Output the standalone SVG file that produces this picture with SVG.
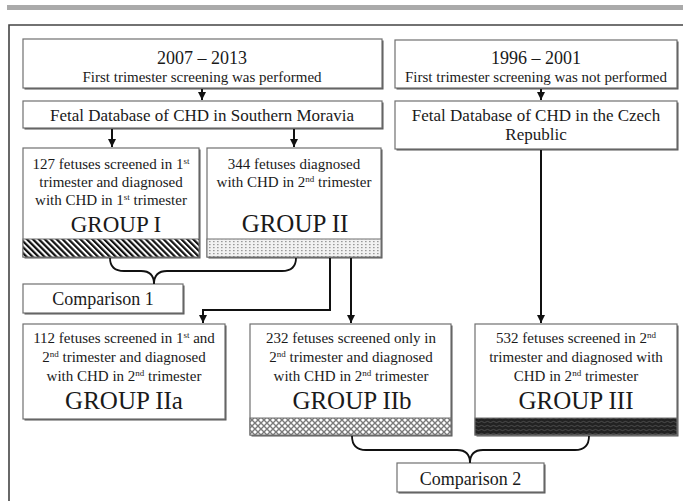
<svg xmlns="http://www.w3.org/2000/svg" width="683" height="501" viewBox="0 0 683 501" font-family="'Liberation Serif', 'Times New Roman', Times, 'DejaVu Serif', serif">
<defs>
<style>
text{font-family:'Liberation Serif','Times New Roman',Times,'DejaVu Serif',serif;fill:#1a1a1a;text-anchor:middle}
.box{fill:#fff;stroke:#707070;stroke-width:1.2}
.sh{fill:#555}
.t18{font-size:18px}
.t15{font-size:15px}
.t17{font-size:17px}
.grp{font-size:25px}
.conn{fill:none;stroke:#111;stroke-width:2}
.brace{fill:none;stroke:#111;stroke-width:1.8}
.band{stroke:#707070;stroke-width:1}
</style>
<marker id="ah" markerUnits="userSpaceOnUse" markerWidth="9" markerHeight="8" refX="8" refY="4" orient="auto">
<path d="M0,0 L8,4 L0,8 z" fill="#111"/>
</marker>
<pattern id="stripes" patternUnits="userSpaceOnUse" width="4.2" height="4.2" patternTransform="rotate(-45)">
<rect width="4.2" height="4.2" fill="#fff"/>
<rect width="2.2" height="4.2" fill="#111"/>
</pattern>
<pattern id="dots" patternUnits="userSpaceOnUse" width="4" height="3">
<rect width="4" height="3" fill="#f2f2f2"/>
<rect x="1" y="1" width="1.6" height="1.2" fill="#9a9a9a"/>
</pattern>
<pattern id="cross" patternUnits="userSpaceOnUse" width="6" height="6">
<rect width="6" height="6" fill="#fff"/>
<path d="M0,0 L6,6 M6,0 L0,6" stroke="#7a7a7a" stroke-width="1.4"/>
</pattern>
<pattern id="dark" patternUnits="userSpaceOnUse" width="6" height="4">
<rect width="6" height="4" fill="#222"/>
<path d="M0,2 Q1.5,0.8 3,2 T6,2" fill="none" stroke="#555" stroke-width="0.8"/>
</pattern>
</defs>

<rect x="7" y="5" width="676" height="5" fill="#aaaaaa"/>
<path d="M9,501 L9,25 L683,25" fill="none" stroke="#444" stroke-width="1.6"/>

<g id="period1">
<rect class="sh" x="24.5" y="40.5" width="359" height="49"/>
<rect class="box" x="23" y="39" width="359" height="49"/>
<text class="t18" x="202" y="64">2007 – 2013</text>
<text class="t15" x="202" y="82">First trimester screening was performed</text>
</g>

<g id="db1">
<rect class="sh" x="24.5" y="102.5" width="359" height="27"/>
<rect class="box" x="23" y="101" width="359" height="27"/>
<text class="t17" x="202" y="121">Fetal Database of CHD in Southern Moravia</text>
</g>

<g id="period2">
<rect class="sh" x="396.5" y="41.5" width="282" height="48"/>
<rect class="box" x="395" y="40" width="282" height="48"/>
<text class="t18" x="536" y="64">1996 – 2001</text>
<text class="t15" x="536" y="82">First trimester screening was not performed</text>
</g>

<g id="db2">
<rect class="sh" x="396.5" y="102.5" width="282" height="48"/>
<rect class="box" x="395" y="101" width="282" height="48"/>
<text class="t17" x="536" y="121">Fetal Database of CHD in the Czech</text>
<text class="t17" x="536" y="140">Republic</text>
</g>

<g id="group1">
<rect class="sh" x="24.5" y="149.5" width="176" height="109"/>
<rect class="box" x="23" y="148" width="176" height="109"/>
<rect class="band" x="23" y="239" width="176" height="18" fill="url(#stripes)"/>
<text class="t15" x="111" y="169">127 fetuses screened in 1<tspan font-size="9" dy="-5">st</tspan></text>
<text class="t15" x="111" y="187">trimester and diagnosed</text>
<text class="t15" x="111" y="205">with CHD in 1<tspan font-size="9" dy="-5">st</tspan><tspan dy="5"> trimester</tspan></text>
<text x="116" y="232" font-size="23">GROUP I</text>
</g>

<g id="group2">
<rect class="sh" x="208.5" y="149.5" width="174" height="109"/>
<rect class="box" x="207" y="148" width="174" height="109"/>
<rect class="band" x="207" y="239" width="174" height="18" fill="url(#dots)"/>
<text class="t15" x="294" y="169">344 fetuses diagnosed</text>
<text class="t15" x="294" y="187">with CHD in 2<tspan font-size="9" dy="-5">nd</tspan><tspan dy="5"> trimester</tspan></text>
<text class="grp" x="295" y="232">GROUP II</text>
</g>

<g id="comparison1">
<rect class="sh" x="24.5" y="285.5" width="160" height="29"/>
<rect class="box" x="23" y="284" width="160" height="29"/>
<text class="t18" x="103" y="305">Comparison 1</text>
</g>

<g id="group2a">
<rect class="sh" x="24.5" y="325.5" width="202" height="95"/>
<rect class="box" x="23" y="324" width="202" height="95"/>
<text class="t15" x="124" y="343">112 fetuses screened in 1<tspan font-size="9" dy="-5">st</tspan><tspan dy="5"> and</tspan></text>
<text class="t15" x="124" y="362">2<tspan font-size="9" dy="-5">nd</tspan><tspan dy="5"> trimester and diagnosed</tspan></text>
<text class="t15" x="124" y="381">with CHD in 2<tspan font-size="9" dy="-5">nd</tspan><tspan dy="5"> trimester</tspan></text>
<text class="grp" x="124" y="409">GROUP IIa</text>
</g>

<g id="group2b">
<rect class="sh" x="251.5" y="325.5" width="201" height="111"/>
<rect class="box" x="250" y="324" width="201" height="111"/>
<rect class="band" x="250" y="418" width="201" height="17" fill="url(#cross)"/>
<text class="t15" x="351" y="343">232 fetuses screened only in</text>
<text class="t15" x="351" y="362">2<tspan font-size="9" dy="-5">nd</tspan><tspan dy="5"> trimester and diagnosed</tspan></text>
<text class="t15" x="351" y="381">with CHD in 2<tspan font-size="9" dy="-5">nd</tspan><tspan dy="5"> trimester</tspan></text>
<text class="grp" x="352" y="409">GROUP IIb</text>
</g>

<g id="group3">
<rect class="sh" x="476.5" y="325.5" width="202" height="111"/>
<rect class="box" x="475" y="324" width="202" height="111"/>
<rect class="band" x="475" y="418" width="202" height="17" fill="url(#dark)"/>
<text class="t15" x="576" y="343">532 fetuses screened in 2<tspan font-size="9" dy="-5">nd</tspan></text>
<text class="t15" x="576" y="362">trimester and diagnosed with</text>
<text class="t15" x="576" y="381">CHD in 2<tspan font-size="9" dy="-5">nd</tspan><tspan dy="5"> trimester</tspan></text>
<text class="grp" x="576" y="409">GROUP III</text>
</g>

<g id="comparison2">
<rect class="sh" x="398.5" y="464.5" width="147" height="29"/>
<rect class="box" x="397" y="463" width="147" height="29"/>
<text class="t18" x="470.5" y="485">Comparison 2</text>
</g>

<g id="connectors">
<line class="conn" x1="202" y1="89" x2="202" y2="100" marker-end="url(#ah)"/>
<line class="conn" x1="112" y1="129" x2="112" y2="147" marker-end="url(#ah)"/>
<line class="conn" x1="294" y1="129" x2="294" y2="147" marker-end="url(#ah)"/>
<line class="conn" x1="541" y1="89" x2="541" y2="100" marker-end="url(#ah)"/>
<line class="conn" x1="541" y1="150" x2="541" y2="323" marker-end="url(#ah)"/>
<path class="conn" d="M330,258 L330,310 L203,310 L203,323" marker-end="url(#ah)"/>
<line class="conn" x1="351" y1="258" x2="351" y2="323" marker-end="url(#ah)"/>
<path class="brace" d="M110,258 Q110,271 124,271 L141,271 Q154,271 154,284 Q154,271 167,271 L282,271 Q296,271 296,258"/>
<path class="brace" d="M352,436 Q352,450 366,450 L457,450 Q470,450 470,463 Q470,450 483,450 L575,450 Q589,450 589,436"/>
</g>
</svg>
